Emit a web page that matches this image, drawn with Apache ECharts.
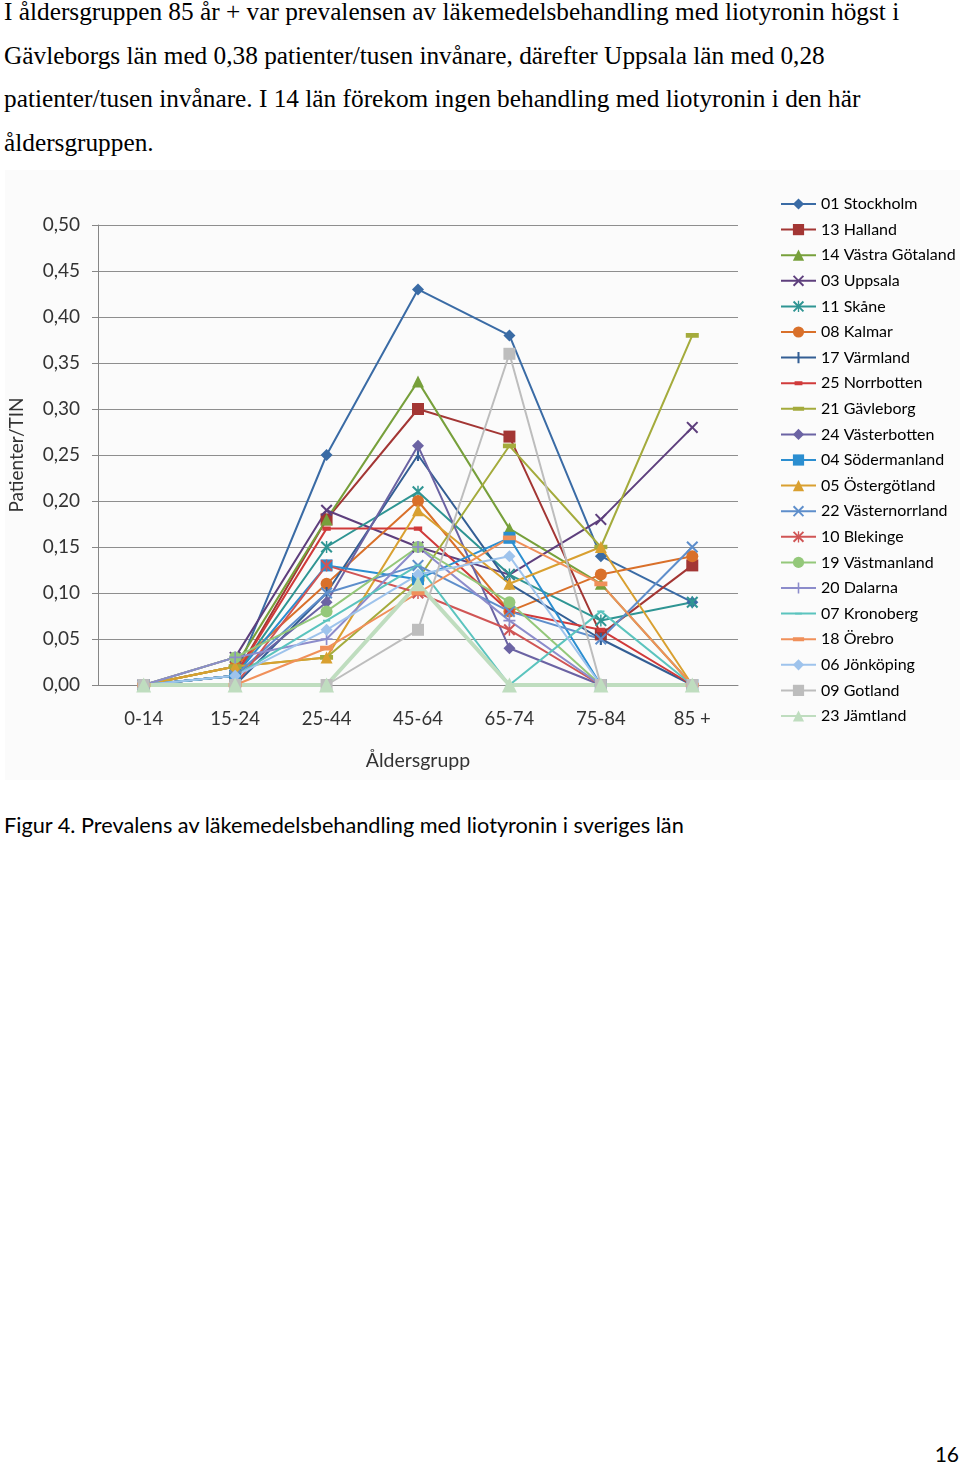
<!DOCTYPE html>
<html>
<head>
<meta charset="utf-8">
<script src="https://cdn.jsdelivr.net/npm/echarts@6/dist/echarts.min.js"></script>
<style>
  html, body { margin: 0; padding: 0; background: #fff; }
  body { width: 960px; height: 1466px; position: relative; overflow: hidden; }
  #para { position: absolute; left: 4px; top: -10px; font-family: "Liberation Serif", "Times New Roman", serif; font-size: 25.3px; line-height: 43.5px; color: #000; white-space: nowrap; }
  #chart { position: absolute; left: 5px; top: 170px; width: 955px; height: 610px; }
  #caption { position: absolute; left: 4px; top: 812px; font-family: Lato, "Open Sans", sans-serif; font-size: 21.7px; color: #000; white-space: nowrap; }
  #page { position: absolute; right: 1px; top: 1441px; font-family: Lato, "Open Sans", sans-serif; font-size: 21px; color: #000; }
</style>
</head>
<body>
<div id="para">I åldersgruppen 85 år + var prevalensen av läkemedelsbehandling med liotyronin högst i<br>Gävleborgs län med 0,38 patienter/tusen invånare, därefter Uppsala län med 0,28<br>patienter/tusen invånare. I 14 län förekom ingen behandling med liotyronin i den här<br>åldersgruppen.</div>
<div id="chart"></div>
<div id="caption">Figur 4. Prevalens av läkemedelsbehandling med liotyronin i sveriges län</div>
<div id="page">16</div>
<script>
// ---- data ----
const categories = ['0-14', '15-24', '25-44', '45-64', '65-74', '75-84', '85 +'];
const yTicks = [0, 0.05, 0.10, 0.15, 0.20, 0.25, 0.30, 0.35, 0.40, 0.45, 0.50];

const stockholm      = [0, 0.01, 0.25, 0.43, 0.38, 0.14, 0.09];
const halland        = [0, 0.01, 0.18, 0.30, 0.27, 0.055, 0.13];
const vastraGotaland = [0, 0.02, 0.18, 0.33, 0.17, 0.11, 0];
const uppsala        = [0, 0.03, 0.19, 0.15, 0.12, 0.18, 0.28];
const skane          = [0, 0.01, 0.15, 0.21, 0.12, 0.07, 0.09];
const kalmar         = [0, 0.02, 0.11, 0.20, 0.08, 0.12, 0.14];
const varmland       = [0, 0, 0.10, 0.25, 0.11, 0.05, 0];
const norrbotten     = [0, 0.01, 0.17, 0.17, 0.08, 0.06, 0];
const gavleborg      = [0, 0.02, 0.03, 0.115, 0.26, 0.15, 0.38];
const vasterbotten   = [0, 0.01, 0.09, 0.26, 0.04, 0, 0];
const sodermanland   = [0, 0.01, 0.13, 0.115, 0.16, 0, 0];
const ostergotland   = [0, 0.02, 0.03, 0.19, 0.11, 0.15, 0];
const vasternorrland = [0, 0.01, 0.10, 0.13, 0.08, 0.05, 0.15];
const blekinge       = [0, 0, 0.13, 0.10, 0.06, 0, 0];
const vastmanland    = [0, 0.03, 0.08, 0.15, 0.09, 0, 0];
const dalarna        = [0, 0.03, 0.05, 0.15, 0.07, 0, 0];
const kronoberg      = [0, 0.01, 0.07, 0.13, 0, 0.08, 0];
const orebro         = [0, 0, 0.04, 0.10, 0.16, 0.11, 0];
const jonkoping      = [0, 0.01, 0.06, 0.12, 0.14, 0, 0];
const gotland        = [0, 0, 0, 0.06, 0.36, 0, 0];
const jamtland       = [0, 0, 0, 0.11, 0, 0, 0];

const seriesNames = ['01 Stockholm', '13 Halland', '14 Västra Götaland', '03 Uppsala', '11 Skåne', '08 Kalmar',
  '17 Värmland', '25 Norrbotten', '21 Gävleborg', '24 Västerbotten', '04 Södermanland', '05 Östergötland',
  '22 Västernorrland', '10 Blekinge', '19 Västmanland', '20 Dalarna', '07 Kronoberg', '18 Örebro',
  '06 Jönköping', '09 Gotland', '23 Jämtland'];
const seriesValues = [stockholm, halland, vastraGotaland, uppsala, skane, kalmar, varmland, norrbotten,
  gavleborg, vasterbotten, sodermanland, ostergotland, vasternorrland, blekinge, vastmanland, dalarna,
  kronoberg, orebro, jonkoping, gotland, jamtland];

// ---- styles ----
// zero-area corner subpaths keep a 10x10 bounding box so thin shapes are not stretched
const BOX = 'M0,0 L0,0 Z M10,10 L10,10 Z ';
const X_PATH = 'path://M0,1.2 L1.2,0 L5,3.8 L8.8,0 L10,1.2 L6.2,5 L10,8.8 L8.8,10 L5,6.2 L1.2,10 L0,8.8 L3.8,5 Z';
const STAR_PATH = 'path://M0,1.2 L1.2,0 L5,3.8 L8.8,0 L10,1.2 L6.2,5 L10,8.8 L8.8,10 L5,6.2 L1.2,10 L0,8.8 L3.8,5 Z M4.4,0 L5.6,0 L5.6,3.6 L4.4,3.6 Z M4.4,6.4 L5.6,6.4 L5.6,10 L4.4,10 Z';
const PLUS_PATH = 'path://M4.3,0 L5.7,0 L5.7,4.3 L10,4.3 L10,5.7 L5.7,5.7 L5.7,10 L4.3,10 L4.3,5.7 L0,5.7 L0,4.3 L4.3,4.3 Z';
const VBAR_PATH = 'path://' + BOX + 'M4.1,0 L5.9,0 L5.9,10 L4.1,10 Z';
const DASH_PATH = 'path://' + BOX + 'M0,3.2 L10,3.2 L10,6.8 L0,6.8 Z';
const SMALL_DASH_PATH = 'path://' + BOX + 'M1.5,3.2 L8.5,3.2 L8.5,6.8 L1.5,6.8 Z';
const THIN_DASH_PATH = 'path://' + BOX + 'M2,4.2 L8,4.2 L8,5.8 L2,5.8 Z';
const styles = [
  { c: '#3A6BA5', s: 'diamond', z: 12 },
  { c: '#A33634', s: 'rect', z: 12 },
  { c: '#77A03B', s: 'triangle', z: 12 },
  { c: '#5E3F7D', s: X_PATH, z: 12 },
  { c: '#2F9593', s: STAR_PATH, z: 12 },
  { c: '#D9702A', s: 'circle', z: 12 },
  { c: '#335E94', s: VBAR_PATH, z: 12 },
  { c: '#D03A3A', s: SMALL_DASH_PATH, z: 12 },
  { c: '#A4AB3C', s: DASH_PATH, z: 13 },
  { c: '#6B63A3', s: 'diamond', z: 12 },
  { c: '#2B8ED0', s: 'rect', z: 12 },
  { c: '#D9A030', s: 'triangle', z: 12 },
  { c: '#5E8ECB', s: X_PATH, z: 12 },
  { c: '#D05555', s: STAR_PATH, z: 12 },
  { c: '#94C87A', s: 'circle', z: 12 },
  { c: '#8C8CCB', s: PLUS_PATH, z: 12 },
  { c: '#5BC4BE', s: THIN_DASH_PATH, z: 12 },
  { c: '#F0905A', s: DASH_PATH, z: 13 },
  { c: '#9EC3EC', s: 'diamond', z: 12 },
  { c: '#BDBDBD', s: 'rect', z: 12 },
  { c: '#BFDDBF', s: 'triangle', z: 15 }
];

const series = seriesNames.map((name, i) => ({
  name: name,
  type: 'line',
  data: seriesValues[i],
  symbol: styles[i].s,
  symbolSize: styles[i].z,
  showSymbol: true,
  color: styles[i].c,
  lineStyle: { color: styles[i].c, width: name === '23 Jämtland' ? 4 : 2 },
  itemStyle: { color: styles[i].c, borderColor: styles[i].c, borderWidth: 0 },
  animation: false,
  emphasis: { disabled: true }
}));

const chart = echarts.init(document.getElementById('chart'), null, { renderer: 'canvas' });
const FONT = 'Lato, "Open Sans", sans-serif';
chart.setOption({
  animation: false,
  backgroundColor: '#FBFBFB',
  textStyle: { fontFamily: FONT },
  grid: { left: 93, top: 55, width: 640, height: 460, containLabel: false, outerBoundsMode: 'none' },
  legend: {
    orient: 'vertical',
    left: 770,
    top: 21,
    itemWidth: 35,
    itemHeight: 14,
    itemGap: 9.6,
    textStyle: { fontSize: 16, color: '#000', fontFamily: FONT },
    data: seriesNames
  },
  xAxis: {
    type: 'category',
    data: categories,
    boundaryGap: true,
    axisLine: { lineStyle: { color: '#868686', width: 1 } },
    axisTick: { show: false },
    axisLabel: { fontSize: 18.5, color: '#333', margin: 25, fontFamily: FONT },
    name: 'Åldersgrupp',
    nameLocation: 'middle',
    nameGap: 66,
    nameTextStyle: { fontSize: 19.5, color: '#333', fontFamily: FONT }
  },
  yAxis: {
    type: 'value',
    min: 0,
    max: 0.5,
    interval: 0.05,
    axisLine: { show: true, lineStyle: { color: '#868686', width: 1 } },
    axisTick: { show: true, length: 6, lineStyle: { color: '#868686' } },
    splitLine: { show: true, lineStyle: { color: '#8E8E8E', width: 1 } },
    axisLabel: {
      fontSize: 19, color: '#333', margin: 18, fontFamily: FONT,
      formatter: v => {
        const t = yTicks.find(k => Math.abs(k - v) < 1e-9);
        return (t !== undefined ? t : v).toFixed(2).replace('.', ',');
      }
    },
    name: 'Patienter/TIN',
    nameLocation: 'middle',
    nameGap: 72,
    nameRotate: 90,
    nameTextStyle: { fontSize: 19, color: '#333', fontFamily: FONT }
  },
  series: series
});
</script>
</body>
</html>
